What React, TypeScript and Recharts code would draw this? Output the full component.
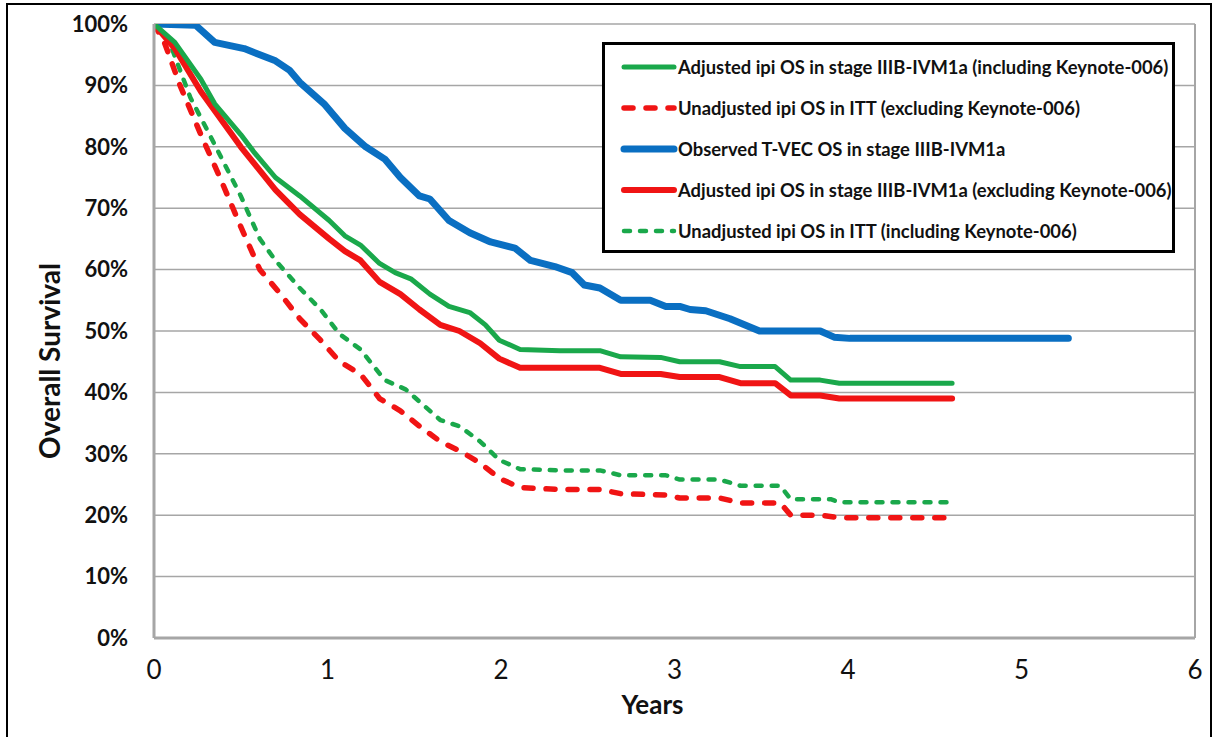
import { LineChart, Line, XAxis, YAxis, CartesianGrid, Legend, ReferenceLine } from 'recharts';

// Kaplan-Meier style curves: t = years, s = survival %
const tvecObserved = [
  { t: 0, s: 100 }, { t: 0.24, s: 99.8 }, { t: 0.35, s: 97 }, { t: 0.52, s: 96 }, { t: 0.7, s: 94 },
  { t: 0.78, s: 92.5 }, { t: 0.84, s: 90.5 }, { t: 0.98, s: 87 }, { t: 1.1, s: 83 }, { t: 1.22, s: 80 },
  { t: 1.33, s: 78 }, { t: 1.42, s: 75 }, { t: 1.53, s: 72 }, { t: 1.59, s: 71.5 }, { t: 1.7, s: 68 },
  { t: 1.82, s: 66 }, { t: 1.94, s: 64.5 }, { t: 2.08, s: 63.5 }, { t: 2.17, s: 61.5 }, { t: 2.31, s: 60.5 },
  { t: 2.41, s: 59.5 }, { t: 2.48, s: 57.5 }, { t: 2.57, s: 57 }, { t: 2.69, s: 55 }, { t: 2.86, s: 55 },
  { t: 2.95, s: 54 }, { t: 3.03, s: 54 }, { t: 3.09, s: 53.5 }, { t: 3.18, s: 53.3 }, { t: 3.32, s: 52 },
  { t: 3.49, s: 50 }, { t: 3.72, s: 50 }, { t: 3.84, s: 50 }, { t: 3.92, s: 49 }, { t: 4.01, s: 48.8 },
  { t: 5.27, s: 48.8 },
];

const ipiAdjIncl = [
  { t: 0, s: 100 }, { t: 0.12, s: 97 }, { t: 0.27, s: 91 }, { t: 0.35, s: 87 }, { t: 0.5, s: 82 },
  { t: 0.58, s: 79 }, { t: 0.7, s: 75 }, { t: 0.84, s: 72 }, { t: 1.01, s: 68 }, { t: 1.1, s: 65.5 },
  { t: 1.19, s: 64 }, { t: 1.3, s: 61 }, { t: 1.39, s: 59.5 }, { t: 1.48, s: 58.5 }, { t: 1.59, s: 56 },
  { t: 1.7, s: 54 }, { t: 1.82, s: 53 }, { t: 1.91, s: 51 }, { t: 1.99, s: 48.5 }, { t: 2.11, s: 47 },
  { t: 2.34, s: 46.8 }, { t: 2.57, s: 46.8 }, { t: 2.69, s: 45.8 }, { t: 2.92, s: 45.7 }, { t: 3.03, s: 45 },
  { t: 3.26, s: 45 }, { t: 3.38, s: 44.2 }, { t: 3.58, s: 44.2 }, { t: 3.67, s: 42 }, { t: 3.84, s: 42 },
  { t: 3.95, s: 41.5 }, { t: 4.6, s: 41.5 },
];

const ipiAdjExcl = [
  { t: 0, s: 100 }, { t: 0.12, s: 96 }, { t: 0.27, s: 89 }, { t: 0.5, s: 80 }, { t: 0.7, s: 73 },
  { t: 0.84, s: 69 }, { t: 1.01, s: 65 }, { t: 1.1, s: 63 }, { t: 1.19, s: 61.5 }, { t: 1.3, s: 58 },
  { t: 1.42, s: 56 }, { t: 1.53, s: 53.5 }, { t: 1.65, s: 51 }, { t: 1.76, s: 50 }, { t: 1.88, s: 48 },
  { t: 1.99, s: 45.5 }, { t: 2.11, s: 44 }, { t: 2.57, s: 44 }, { t: 2.69, s: 43 }, { t: 2.92, s: 43 },
  { t: 3.03, s: 42.5 }, { t: 3.26, s: 42.5 }, { t: 3.38, s: 41.5 }, { t: 3.58, s: 41.5 }, { t: 3.67, s: 39.5 },
  { t: 3.84, s: 39.5 }, { t: 3.95, s: 39 }, { t: 4.6, s: 39 },
];

const ipiUnadjExcl = [
  { t: 0, s: 100 }, { t: 0.06, s: 97 }, { t: 0.15, s: 90 }, { t: 0.27, s: 82 }, { t: 0.38, s: 75 },
  { t: 0.5, s: 67 }, { t: 0.61, s: 60 }, { t: 0.73, s: 56 }, { t: 0.84, s: 52 }, { t: 0.96, s: 48.5 },
  { t: 1.07, s: 45 }, { t: 1.19, s: 43 }, { t: 1.3, s: 39 }, { t: 1.42, s: 37 }, { t: 1.53, s: 34.5 },
  { t: 1.65, s: 32 }, { t: 1.76, s: 30.5 }, { t: 1.88, s: 28.5 }, { t: 1.99, s: 26 }, { t: 2.11, s: 24.5 },
  { t: 2.34, s: 24.2 }, { t: 2.57, s: 24.2 }, { t: 2.69, s: 23.5 }, { t: 2.95, s: 23.3 }, { t: 3.03, s: 22.8 },
  { t: 3.26, s: 22.8 }, { t: 3.38, s: 22 }, { t: 3.61, s: 22 }, { t: 3.67, s: 20 }, { t: 3.84, s: 20 },
  { t: 3.95, s: 19.6 }, { t: 4.58, s: 19.6 },
];

const ipiUnadjIncl = [
  { t: 0, s: 100 }, { t: 0.09, s: 97 }, { t: 0.21, s: 88 }, { t: 0.32, s: 82 }, { t: 0.5, s: 72 },
  { t: 0.61, s: 65 }, { t: 0.7, s: 61.5 }, { t: 0.84, s: 57 }, { t: 0.96, s: 53.5 }, { t: 1.07, s: 49.5 },
  { t: 1.19, s: 47 }, { t: 1.33, s: 42 }, { t: 1.45, s: 40.5 }, { t: 1.53, s: 38.5 }, { t: 1.65, s: 35.5 },
  { t: 1.76, s: 34.5 }, { t: 1.88, s: 32 }, { t: 1.99, s: 29 }, { t: 2.11, s: 27.5 }, { t: 2.34, s: 27.3 },
  { t: 2.57, s: 27.3 }, { t: 2.69, s: 26.5 }, { t: 2.95, s: 26.5 }, { t: 3.03, s: 25.8 }, { t: 3.26, s: 25.8 },
  { t: 3.38, s: 24.8 }, { t: 3.61, s: 24.8 }, { t: 3.67, s: 22.6 }, { t: 3.9, s: 22.6 }, { t: 3.95, s: 22.1 },
  { t: 4.58, s: 22.1 },
];

const xTicks = [0, 1, 2, 3, 4, 5, 6];
const yTicks = [0, 10, 20, 30, 40, 50, 60, 70, 80, 90, 100];

const GREEN = '#1aa84b';
const RED = '#f01414';
const BLUE = '#0a6fc2';
const FONT = 'Lato, "Open Sans", sans-serif';

const series = [
  { name: 'Adjusted ipi OS in stage IIIB-IVM1a (including Keynote-006)', data: ipiAdjIncl, color: GREEN, width: 5, dash: undefined },
  { name: 'Unadjusted ipi OS in ITT (excluding Keynote-006)', data: ipiUnadjExcl, color: RED, width: 5.5, dash: '9 13' },
  { name: 'Observed T-VEC OS in stage IIIB-IVM1a', data: tvecObserved, color: BLUE, width: 7, dash: undefined },
  { name: 'Adjusted ipi OS in stage IIIB-IVM1a (excluding Keynote-006)', data: ipiAdjExcl, color: RED, width: 6, dash: undefined },
  { name: 'Unadjusted ipi OS in ITT (including Keynote-006)', data: ipiUnadjIncl, color: GREEN, width: 4.5, dash: '6 10' },
];

function LegendBox() {
  return (
    <div
      style={{
        position: 'absolute', left: 602, top: 42, width: 573, height: 211, boxSizing: 'border-box',
        border: '3px solid #000', background: '#fff', fontFamily: FONT, fontSize: 18.4, fontWeight: 700,
        color: '#111', paddingTop: 1,
      }}
    >
      {series.map((s) => (
        <div key={s.name} style={{ display: 'flex', alignItems: 'center', height: 41 }}>
          <svg width={58} height={10} style={{ marginLeft: 15, marginRight: 0 }}>
            <line x1={4} y1={5} x2={54} y2={5} stroke={s.color} strokeWidth={s.width} strokeLinecap="round" strokeDasharray={s.dash} />
          </svg>
          <span>{s.name}</span>
        </div>
      ))}
    </div>
  );
}

function YTitle(props: any) {
  const vb = props.viewBox;
  const x = vb.x + vb.width - 105;
  const y = vb.y + vb.height / 2 + 30;
  return (
    <text x={x} y={y} transform={`rotate(-90 ${x} ${y})`} textAnchor="middle" dominantBaseline="central"
      fill="#111" fontSize={28} fontWeight={700} fontFamily={FONT}>
      Overall Survival
    </text>
  );
}

export default function App() {
  return (
    <div style={{ position: 'absolute', left: 0, top: 0, width: 1214, height: 737, background: '#fff', overflow: 'hidden' }}>
      <div style={{ position: 'absolute', left: 6, top: 3, width: 1206, height: 740, boxSizing: 'border-box', border: '2px solid #000' }} />
      <LineChart width={1214} height={737} margin={{ top: 24, right: 19, bottom: 49, left: 74 }} style={{ position: 'absolute', left: 0, top: 0 }}>
        <CartesianGrid horizontal vertical={false} stroke="#a6a6a6" strokeWidth={1.5} strokeDasharray="" />
        <XAxis
          type="number" dataKey="t" domain={[0, 6]} ticks={xTicks} allowDataOverflow
          height={50} tickSize={0} tickMargin={23} stroke="#a6a6a6" strokeWidth={3}
          tick={{ fill: '#111', fontSize: 26, fontFamily: FONT }}
          label={{ value: 'Years', position: 'insideBottom', offset: -26, dx: -22, fill: '#111', fontSize: 26, fontWeight: 700, fontFamily: FONT }}
        />
        <YAxis
          type="number" domain={[0, 100]} ticks={yTicks} allowDataOverflow
          width={80} tickSize={0} tickMargin={26} stroke="#a6a6a6" strokeWidth={3}
          tickFormatter={(v: number) => `${v}%`}
          tick={{ fill: '#111', fontSize: 22, fontFamily: FONT, fontWeight: 700 }}
          label={<YTitle />}
        />
        <ReferenceLine x={6} stroke="#a6a6a6" strokeWidth={2} />
        {[...series].reverse().map((s) => (
          <Line
            key={s.name} data={s.data} dataKey="s" name={s.name} type="linear" dot={false} activeDot={false}
            stroke={s.color} strokeWidth={s.width} strokeDasharray={s.dash} strokeLinejoin="round"
            strokeLinecap="round" isAnimationActive={false}
          />
        ))}
        <Legend content={() => null} />
      </LineChart>
      <LegendBox />
    </div>
  );
}
